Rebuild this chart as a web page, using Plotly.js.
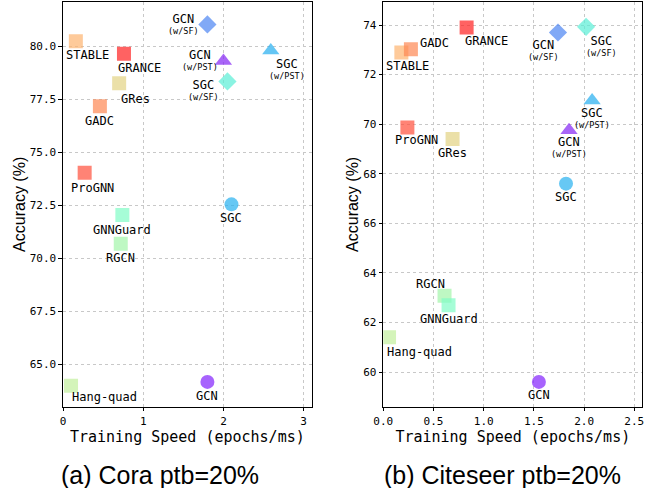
<!DOCTYPE html>
<html><head><meta charset="utf-8">
<script src="https://cdn.plot.ly/plotly-3.0.1.min.js"></script>
<style>html,body{margin:0;padding:0;background:#fff}#chart{width:667px;height:488px}</style>
</head><body><div id="chart"></div>
<script>
// ---------------- DATA ----------------
const coraMethods = ["STABLE","GRANCE","GRes","GADC","ProGNN","GCN (w/SF)","GCN (w/PST)","SGC (w/SF)","SGC (w/PST)","SGC","GNNGuard","RGCN","Hang-quad","GCN"];
const coraSpeed   = [0.16, 0.76, 0.70, 0.46, 0.27, 1.80, 2.00, 2.05, 2.59, 2.10, 0.74, 0.72, 0.10, 1.80];
const coraAcc     = [80.25, 79.66, 78.27, 77.18, 74.04, 81.04, 79.31, 78.35, 79.81, 72.55, 72.05, 70.69, 63.99, 64.17];

const citeseerMethods = ["GRANCE","STABLE","GADC","ProGNN","GRes","GCN (w/SF)","SGC (w/SF)","SGC (w/PST)","GCN (w/PST)","SGC","RGCN","GNNGuard","Hang-quad","GCN"];
const citeseerSpeed   = [0.83, 0.18, 0.275, 0.24, 0.69, 1.74, 2.02, 2.08, 1.85, 1.82, 0.61, 0.65, 0.057, 1.55];
const citeseerAcc     = [73.90, 72.89, 73.02, 69.87, 69.40, 73.70, 73.93, 70.96, 69.76, 67.60, 63.08, 62.69, 61.40, 59.60];

const coraXTicks = [0, 1, 2, 3];
const coraXTickText = ["0", "1", "2", "3"];
const coraYTicks = [65, 67.5, 70, 72.5, 75, 77.5, 80];
const coraYTickText = ["65.0", "67.5", "70.0", "72.5", "75.0", "77.5", "80.0"];
const citeseerXTicks = [0, 0.5, 1, 1.5, 2, 2.5];
const citeseerXTickText = ["0.0", "0.5", "1.0", "1.5", "2.0", "2.5"];
const citeseerYTicks = [60, 62, 64, 66, 68, 70, 72, 74];
const citeseerYTickText = ["60", "62", "64", "66", "68", "70", "72", "74"];

const xTitle = "Training Speed (epochs/ms)";
const yTitle = "Accuracy (%)";
const captions = ["(a) Cora ptb=20%", "(b) Citeseer ptb=20%"];

// ---------------- STYLE ----------------
const colorOf = {
  "STABLE": "#fdb36f", "GRANCE": "#ff1f1f", "GRes": "#e3d383", "GADC": "#fe8752",
  "ProGNN": "#ff4f3b", "GNNGuard": "#80fcc6", "RGCN": "#a2f5aa", "Hang-quad": "#c2f09c",
  "GCN": "#8121fc", "GCN (w/PST)": "#8324f4", "GCN (w/SF)": "#4b84f2",
  "SGC": "#26b0f0", "SGC (w/PST)": "#23aef0", "SGC (w/SF)": "#58eed6"
};
function symbolOf(m) {
  if (m.indexOf("(w/SF)") >= 0) return "diamond";
  if (m.indexOf("(w/PST)") >= 0) return "triangle-up";
  if (m === "GCN" || m === "SGC") return "circle";
  return "square";
}
const sizeOf = {"diamond": 14, "triangle-up": 15, "circle": 14, "square": 14};

// label placement (pixels: dx right, dy down from marker centre; sdy for sub-label line)
const coraLabelPos = {
  "STABLE": {dx: 12, dy: 14}, "GRANCE": {dx: 16, dy: 14.5}, "GRes": {dx: 16, dy: 15.5},
  "GADC": {dx: 0, dy: 14.7}, "ProGNN": {dx: 8, dy: 15.5},
  "GCN (w/SF)": {dx: -24, dy: -4.7, sdy: 5}, "GCN (w/PST)": {dx: -23, dy: -5.7, sdy: 5},
  "SGC (w/SF)": {dx: -24, dy: 4, sdy: 15.7}, "SGC (w/PST)": {dx: 16, dy: 14, sdy: 25.7},
  "SGC": {dx: 0, dy: 14}, "GNNGuard": {dx: 0, dy: 15.3}, "RGCN": {dx: 0, dy: 14.7},
  "Hang-quad": {dx: -0.3, dy: 11, anchor: "left"}, "GCN": {dx: 0, dy: 14}
};
const citeseerLabelPos = {
  "GRANCE": {dx: 20, dy: 13.4}, "GADC": {dx: 23.3, dy: -6}, "STABLE": {dx: 6.3, dy: 13.4},
  "ProGNN": {dx: 9.6, dy: 12.7}, "GRes": {dx: 0, dy: 14.3},
  "GCN (w/SF)": {dx: -14.4, dy: 12.7, sdy: 24.4}, "SGC (w/SF)": {dx: 15, dy: 15, sdy: 26},
  "SGC (w/PST)": {dx: 0, dy: 13.3, sdy: 24}, "GCN (w/PST)": {dx: 0, dy: 12.7, sdy: 23.3},
  "SGC": {dx: 0, dy: 13.4}, "RGCN": {dx: -14, dy: -11.7}, "GNNGuard": {dx: 0, dy: 13.7},
  "Hang-quad": {dx: -3.3, dy: 14.4, anchor: "left"}, "GCN": {dx: 0, dy: 13.4}
};

const MONO = "DejaVu Sans Mono, Liberation Mono, monospace";
const SANS = "Liberation Sans, Arial, sans-serif";
const MAIN_SIZE = 12, SUB_SIZE = 8.5;

function makeTrace(methods, xs, ys, xa, ya) {
  const sym = methods.map(symbolOf);
  return {
    type: "scatter", mode: "markers", x: xs, y: ys, xaxis: xa, yaxis: ya,
    text: methods, hoverinfo: "text+x+y", showlegend: false,
    marker: { color: methods.map(m => colorOf[m]), symbol: sym, size: sym.map(s => sizeOf[s]), line: {width: 0} }
  };
}
function makeLabels(methods, xs, ys, pos, xref, yref) {
  return methods.map((m, i) => {
    const p = pos[m];
    const parts = m.split(" ");
    const main = parts[0];
    const sub = parts.length > 1 ? parts[1] : null;
    if (!sub) {
      return {
        x: xs[i], y: ys[i], xref: xref, yref: yref, text: main, showarrow: false,
        xanchor: p.anchor || "center", yanchor: "middle", xshift: p.dx, yshift: -p.dy,
        borderpad: 0, font: {family: MONO, size: MAIN_SIZE, color: "#000"}
      };
    }
    return {
      x: xs[i], y: ys[i], xref: xref, yref: yref,
      text: '<span style="font-size:' + MAIN_SIZE + 'px">' + main + '</span><br>' + sub,
      showarrow: false, xanchor: "center", yanchor: "middle",
      xshift: p.dx, yshift: -((p.dy + p.sdy) / 2 - 1), borderpad: 0,
      font: {family: MONO, size: SUB_SIZE, color: "#000"}
    };
  });
}

const W = 667, H = 488;
const yDom = [1 - 406.7 / H, 1 - 2 / H];
function axisBase() {
  return {
    showline: true, mirror: true, linecolor: "#000", linewidth: 1.2,
    ticks: "outside", ticklen: 3.5, tickwidth: 1, tickcolor: "#000",
    showgrid: true, gridcolor: "#c8c8c8", griddash: "dot", gridwidth: 1,
    zeroline: false, tickfont: {family: MONO, size: 11, color: "#000"},
    tickmode: "array", fixedrange: true
  };
}
const xaxis = Object.assign(axisBase(), {
  domain: [63 / W, 311.7 / W], range: [0, 3.1], anchor: "y",
  tickvals: coraXTicks, ticktext: coraXTickText,
  title: {text: xTitle, font: {family: MONO, size: 15, color: "#000"}, standoff: 4}
});
const yaxis = Object.assign(axisBase(), {
  domain: yDom, range: [63.0, 82.1], anchor: "x",
  tickvals: coraYTicks, ticktext: coraYTickText,
  title: {text: yTitle, font: {family: SANS, size: 16, color: "#000"}, standoff: 0}
});
const xaxis2 = Object.assign(axisBase(), {
  domain: [383.3 / W, 642.3 / W], range: [0, 2.58], anchor: "y2",
  tickvals: citeseerXTicks, ticktext: citeseerXTickText,
  title: {text: xTitle, font: {family: MONO, size: 15, color: "#000"}, standoff: 4}
});
const yaxis2 = Object.assign(axisBase(), {
  domain: yDom, range: [58.6, 74.93], anchor: "x2",
  tickvals: citeseerYTicks, ticktext: citeseerYTickText,
  title: {text: yTitle, font: {family: SANS, size: 16, color: "#000"}, standoff: 0}
});

const annotations = []
  .concat(makeLabels(coraMethods, coraSpeed, coraAcc, coraLabelPos, "x", "y"))
  .concat(makeLabels(citeseerMethods, citeseerSpeed, citeseerAcc, citeseerLabelPos, "x2", "y2"))
  .concat([
    {x: 160 / W, y: 1 - 475 / H, xref: "paper", yref: "paper", text: captions[0], showarrow: false,
     xanchor: "center", yanchor: "middle", font: {family: SANS, size: 25, color: "#000"}},
    {x: 502 / W, y: 1 - 475 / H, xref: "paper", yref: "paper", text: captions[1], showarrow: false,
     xanchor: "center", yanchor: "middle", font: {family: SANS, size: 25, color: "#000"}}
  ]);

const layout = {
  width: W, height: H, margin: {l: 0, r: 0, t: 0, b: 0},
  paper_bgcolor: "#fff", plot_bgcolor: "#fff",
  xaxis: xaxis, yaxis: yaxis, xaxis2: xaxis2, yaxis2: yaxis2,
  annotations: annotations, showlegend: false, hovermode: "closest"
};

Plotly.newPlot("chart", [
  makeTrace(coraMethods, coraSpeed, coraAcc, "x", "y"),
  makeTrace(citeseerMethods, citeseerSpeed, citeseerAcc, "x2", "y2")
], layout, {displayModeBar: false});
</script>
</body></html>
